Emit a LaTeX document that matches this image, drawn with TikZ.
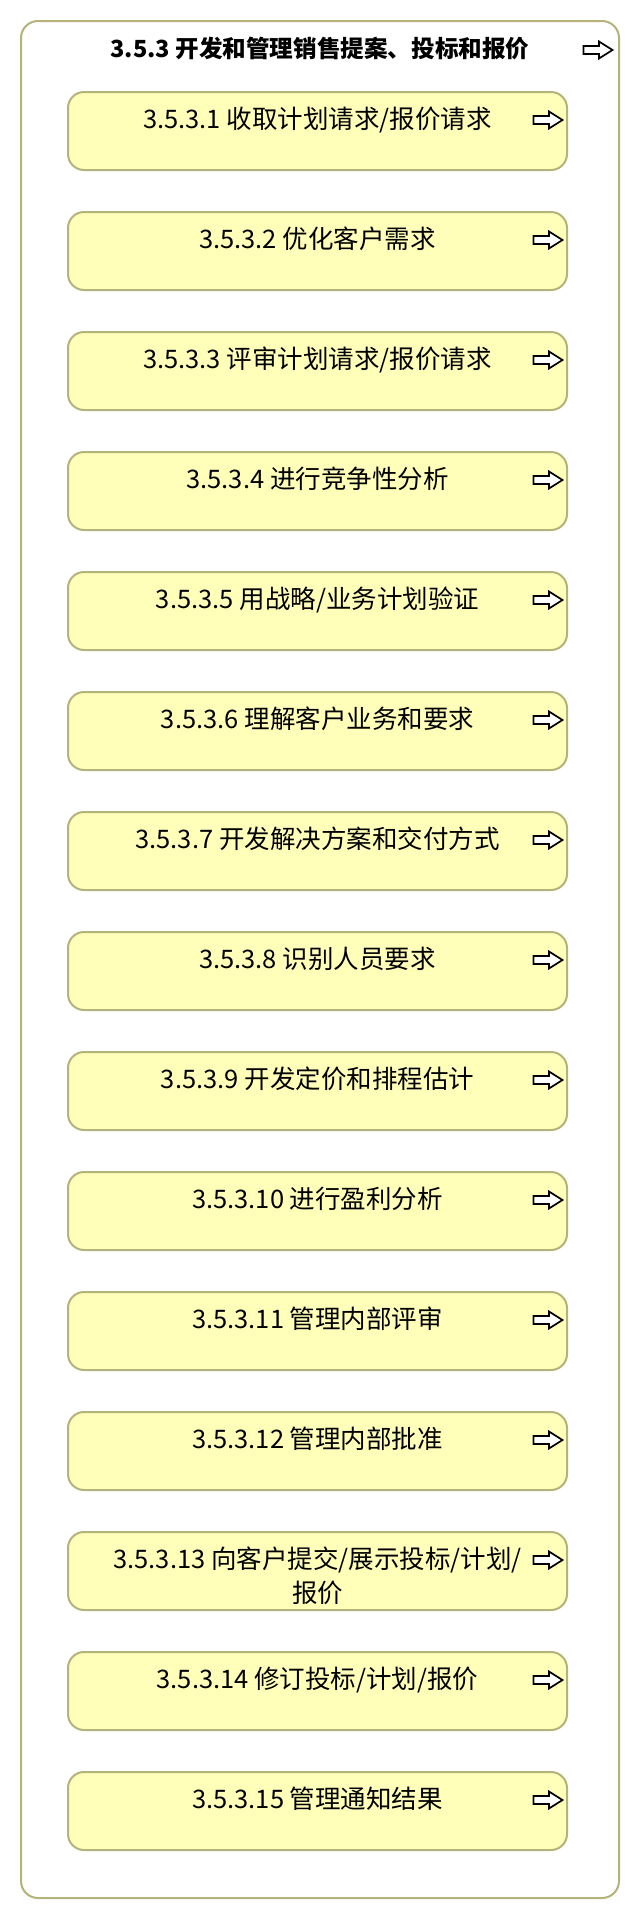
\documentclass[tikz,border=0pt]{standalone}
\usepackage{fontspec}
\setmainfont{Noto Sans CJK SC}
\newfontfamily\cjk{Noto Sans CJK SC}
\definecolor{boxfill}{HTML}{FFFFB9}
\definecolor{boxline}{HTML}{B3B37A}
\tikzset{
  outerbox/.style={draw=boxline, line width=2pt, rounded corners=17pt, fill=white,
    minimum width=598pt, minimum height=1877pt, inner sep=0pt},
  taskbox/.style={draw=boxline, line width=2pt, rounded corners=16pt, fill=boxfill,
    minimum width=499pt, minimum height=78pt, inner sep=0pt},
  tasktext/.style={anchor=north, inner sep=0pt, align=center,
    font=\cjk\fontsize{25.5pt}{34pt}\selectfont},
  titletext/.style={anchor=north, inner sep=0pt, align=center,
    font=\cjk\bfseries\fontsize{23.6pt}{30pt}\selectfont},
  harrow/.pic={\draw[black, line width=1.7pt, fill=white, line join=miter]
    (-14.5,-4) -- (1,-4) -- (1,-8.5) -- (14.5,0) -- (1,8.5) -- (1,4) -- (-14.5,4) -- cycle;}
}
\newcommand\taskitem[3]{%
  \node[taskbox] (b#1) at (317.5, #2+39) {};
  \node[tasktext] (t#1) at (317.5, #2+15) {#3};
  \pic at (548, #2+28) {harrow};
}
\begin{document}
\begin{tikzpicture}[x=1pt, y=-1pt]
\useasboundingbox (0,0) rectangle (640,1920);
\node[outerbox] (outer) at (320, 959.5) {};
\node[titletext] (title) at (320, 36.5) {3.5.3 开发和管理销售提案、投标和报价};
\pic at (598, 50) {harrow};
\taskitem{1}{92}{3.5.3.1 收取计划请求/报价请求}
\taskitem{2}{212}{3.5.3.2 优化客户需求}
\taskitem{3}{332}{3.5.3.3 评审计划请求/报价请求}
\taskitem{4}{452}{3.5.3.4 进行竞争性分析}
\taskitem{5}{572}{3.5.3.5 用战略/业务计划验证}
\taskitem{6}{692}{3.5.3.6 理解客户业务和要求}
\taskitem{7}{812}{3.5.3.7 开发解决方案和交付方式}
\taskitem{8}{932}{3.5.3.8 识别人员要求}
\taskitem{9}{1052}{3.5.3.9 开发定价和排程估计}
\taskitem{10}{1172}{3.5.3.10 进行盈利分析}
\taskitem{11}{1292}{3.5.3.11 管理内部评审}
\taskitem{12}{1412}{3.5.3.12 管理内部批准}
\taskitem{13}{1532}{3.5.3.13 向客户提交/展示投标/计划/\\报价}
\taskitem{14}{1652}{3.5.3.14 修订投标/计划/报价}
\taskitem{15}{1772}{3.5.3.15 管理通知结果}
\end{tikzpicture}
\end{document}
